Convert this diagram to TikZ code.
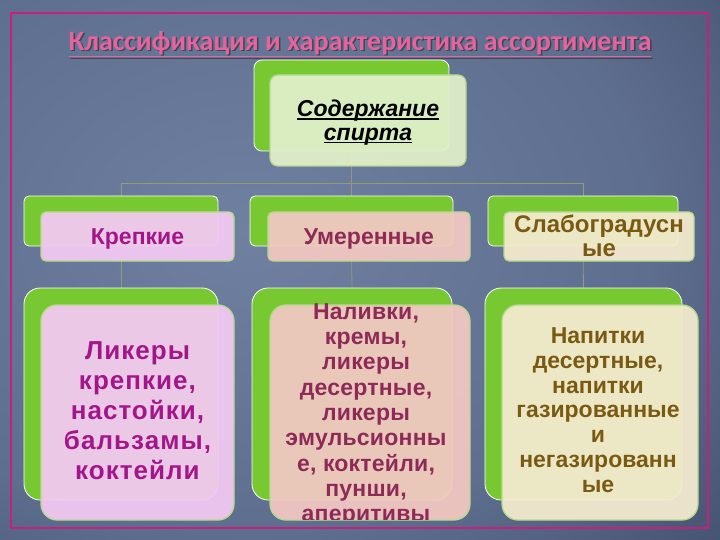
\documentclass[tikz,border=0pt]{standalone}
\usepackage{fontspec}
\setmainfont{Liberation Sans}
\newfontfamily\titlefont{Carlito}
\definecolor{bgin}{HTML}{7080A0}
\definecolor{bgmid}{HTML}{5E6E8E}
\definecolor{bgdark}{HTML}{34405E}
\definecolor{bgout}{HTML}{243050}
\definecolor{framec}{HTML}{C8207A}
\definecolor{titlec}{HTML}{E5639E}
\definecolor{boxgreen}{HTML}{78C832}
\definecolor{edgegreen}{HTML}{B5DA8C}
\definecolor{topfill}{HTML}{E0F0CA}
\definecolor{pinkfill}{HTML}{F2C9F2}
\definecolor{peachfill}{HTML}{F2C8C2}
\definecolor{creamfill}{HTML}{F4EBCF}
\definecolor{pinktext}{HTML}{A3168A}
\definecolor{plumtext}{HTML}{8E2A58}
\definecolor{browntext}{HTML}{7A5A12}
\definecolor{connc}{HTML}{8E9C78}
\pgfdeclareradialshading{bgshade}{\pgfpoint{0bp}{0bp}}{color(0bp)=(bgin); color(20bp)=(bgmid); color(40bp)=(bgdark); color(50bp)=(bgout)}
\pgfdeclarelayer{back}
\pgfdeclarelayer{conns}
\pgfsetlayers{back,conns,main}
\newcommand\myul[1]{\setbox0\hbox{#1}\rlap{\vrule height -1.8pt depth 3.2pt width \wd0}\box0}
\begin{document}
\begin{tikzpicture}[x=1pt,y=-1pt,
  gbox/.style={fill=boxgreen, draw=white, line width=0.8pt, inner sep=0pt},
  fbox/.style={draw=edgegreen, line width=1.3pt, inner sep=0pt, fill opacity=0.94},
  conn/.style={draw=connc, line width=0.8pt},
  lbl/.style={align=center, inner sep=0pt, font=\bfseries}
]
\useasboundingbox (0,0) rectangle (720,540);
\begin{pgfonlayer}{back}
\begin{scope}
\clip (0,0) rectangle (720,540);
\shade[shading=bgshade] (-250,-150) rectangle (750,610);
\end{scope}
\draw[framec, line width=2.5pt] (11,13) rectangle (708,528);
\end{pgfonlayer}

% title
\node[font=\titlefont\bfseries\fontsize{28}{30}\selectfont, text=black!80, opacity=0.7] (titleshadow) at (361.5,45.5) {\underline{Классификация и характеристика ассортимента}};
\node[font=\titlefont\bfseries\fontsize{28}{30}\selectfont, text=titlec] (title) at (360,44) {\underline{Классификация и характеристика ассортимента}};

% top
\node[gbox, rounded corners=8pt, minimum width=195pt, minimum height=91pt] (tg) at (351.5,105.5) {};
\node[fbox, fill=topfill, rounded corners=8pt, minimum width=196pt, minimum height=91pt] (t) at (368,120.5) {};
\node[align=center, inner sep=0pt, font=\bfseries\itshape\fontsize{23}{23.5}\selectfont] (tt) at (368,122.5) {\myul{Содержание}\\\myul{спирта}};

% row 2
\node[gbox, rounded corners=5pt, minimum width=194pt, minimum height=50pt] (kg) at (121,221) {};
\node[fbox, fill=pinkfill, rounded corners=5pt, minimum width=193pt, minimum height=49pt] (k) at (137.5,236.5) {};
\node[lbl, anchor=base, text=pinktext, font=\bfseries\fontsize{23}{24}\selectfont] (kt) at (137.5,244) {Крепкие};

\node[gbox, rounded corners=5pt, minimum width=203pt, minimum height=50pt] (ug) at (351.5,221) {};
\node[fbox, fill=peachfill, rounded corners=5pt, minimum width=202pt, minimum height=49pt] (u) at (369,236.5) {};
\node[lbl, anchor=base, text=plumtext, font=\bfseries\fontsize{23}{24}\selectfont] (ut) at (369,244) {Умеренные};

\node[gbox, rounded corners=5pt, minimum width=190pt, minimum height=50pt] (sg) at (583,221) {};
\node[fbox, fill=creamfill, rounded corners=5pt, minimum width=190pt, minimum height=49pt] (s) at (599,236.5) {};
\node[lbl, text=browntext, font=\bfseries\fontsize{24}{24}\selectfont] (st) at (599,235.5) {Слабоградусн\\ые};

% row 3
\node[gbox, rounded corners=16pt, minimum width=194pt, minimum height=212pt] (lg) at (121,394) {};
\node[fbox, fill=pinkfill, rounded corners=16pt, minimum width=193pt, minimum height=215pt] (l) at (137.5,412.5) {};
\node[lbl, text=pinktext, font=\bfseries\fontsize{26}{30}\selectfont\addfontfeature{LetterSpace=4}] (lt) at (137.5,411) {Ликеры\\крепкие,\\настойки,\\бальзамы,\\коктейли};

\node[gbox, rounded corners=16pt, minimum width=200pt, minimum height=212pt] (mg) at (352,394) {};
\node[fbox, fill=peachfill, rounded corners=16pt, minimum width=200pt, minimum height=215pt] (m) at (370,412.5) {};
\begin{scope}
\clip (0,0) rectangle (720,519);
\node[lbl, text=plumtext, font=\bfseries\fontsize{23}{25.3}\selectfont\addfontfeature{LetterSpace=1}] (mt) at (366,415) {Наливки,\\кремы,\\ликеры\\десертные,\\ликеры\\эмульсионны\\е, коктейли,\\пунши,\\аперитивы};
\end{scope}

\node[gbox, rounded corners=16pt, minimum width=197pt, minimum height=212pt] (rg) at (583.5,394) {};
\node[fbox, fill=creamfill, rounded corners=16pt, minimum width=196pt, minimum height=215pt] (r) at (600,412.5) {};
\node[lbl, text=browntext, font=\bfseries\fontsize{23}{24.8}\selectfont] (rt) at (598,410) {Напитки\\десертные,\\напитки\\газированные\\и\\негазированн\\ые};

% connectors
\begin{pgfonlayer}{conns}
\coordinate (bus) at (351.5,183);
\draw[conn] (tg.south) -- (bus);
\draw[conn] (bus) -| (kg.north);
\draw[conn] (bus) -| (ug.north);
\draw[conn] (bus) -| (sg.north);
\draw[conn] (kg.south) -- (lg.north);
\draw[conn] (ug.south) -- (mg.north);
\draw[conn] (sg.south) -- (rg.north);
\end{pgfonlayer}
\end{tikzpicture}
\end{document}
